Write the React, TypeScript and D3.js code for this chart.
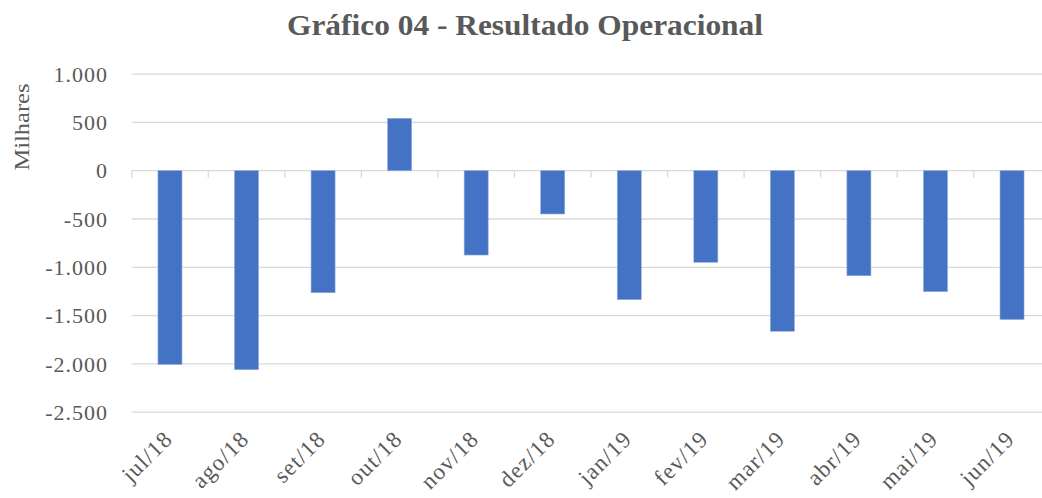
import React from "react";
import * as d3 from "d3";

const categories = ["jul/18", "ago/18", "set/18", "out/18", "nov/18", "dez/18", "jan/19", "fev/19", "mar/19", "abr/19", "mai/19", "jun/19"];
const values = [-2005, -2060, -1263, 542, -873, -448, -1335, -948, -1662, -1087, -1252, -1540];
const yTicks = [1000, 500, 0, -500, -1000, -1500, -2000, -2500];
const title = "Gráfico 04 - Resultado Operacional";
const yLabel = "Milhares";

const fmt = (v: number) => {
  const s = Math.abs(v).toString().replace(/\B(?=(\d{3})+(?!\d))/g, ".");
  return (v < 0 ? "-" : "") + s;
};

export default function App() {
  const W = 1042, H = 498;
  const font = "'Liberation Serif', 'DejaVu Serif', serif";
  const textColor = "#595959";
  const grid = "#d9d9d9";
  const x = d3.scaleBand<string>().domain(categories).range([131.7, 1050.3]).paddingInner(0).paddingOuter(0);
  const y = d3.scaleLinear().domain([-2500, 1000]).range([412.2, 74.1]);
  const step = x.step();
  const bw = step / 3.19;
  const x0 = x.range()[0];
  return (
    <svg width={W} height={H} style={{ position: "absolute", left: 0, top: 0, background: "#fff" }}>
      <rect x={0} y={0} width={W} height={H} fill="#fff" />
      <text x={525} y={35} textAnchor="middle" fontFamily={font} fontWeight="bold" fontSize={29} fill={textColor} textLength={476} lengthAdjust="spacingAndGlyphs">{title}</text>
      <text transform={`translate(29,127) rotate(-90)`} textAnchor="middle" fontFamily={font} fontSize={22} fill={textColor} textLength={87} lengthAdjust="spacingAndGlyphs">{yLabel}</text>
      {yTicks.map(t => (
        <g key={t}>
          <line x1={x0} x2={W} y1={y(t)} y2={y(t)} stroke={grid} strokeWidth={1.3} />
          <text x={108} y={y(t)} dy="0.35em" textAnchor="end" fontFamily={font} fontSize={22} fill={textColor} letterSpacing={1}>{fmt(t)}</text>
        </g>
      ))}
      {d3.range(categories.length + 1).map(i => (
        <line key={i} x1={x0 + i * step} x2={x0 + i * step} y1={y(0)} y2={y(0) + 7} stroke={grid} strokeWidth={1.3} />
      ))}
      {categories.map((c, i) => {
        const v = values[i];
        const cx = (x(c) as number) + step / 2;
        return (
          <rect key={c} x={cx - bw / 2} y={Math.min(y(v), y(0))} width={bw} height={Math.abs(y(v) - y(0))} fill="#4472c4" stroke="#8faadc" strokeWidth={0.6} />
        );
      })}
      {categories.map(c => {
        const cx = (x(c) as number) + step / 2;
        return (
          <text key={c} transform={`translate(${cx + 4},${y(-2500) + 28}) rotate(-45)`} textAnchor="end" fontFamily={font} fontSize={23} fill={textColor} letterSpacing={1.2}>{c}</text>
        );
      })}
    </svg>
  );
}
